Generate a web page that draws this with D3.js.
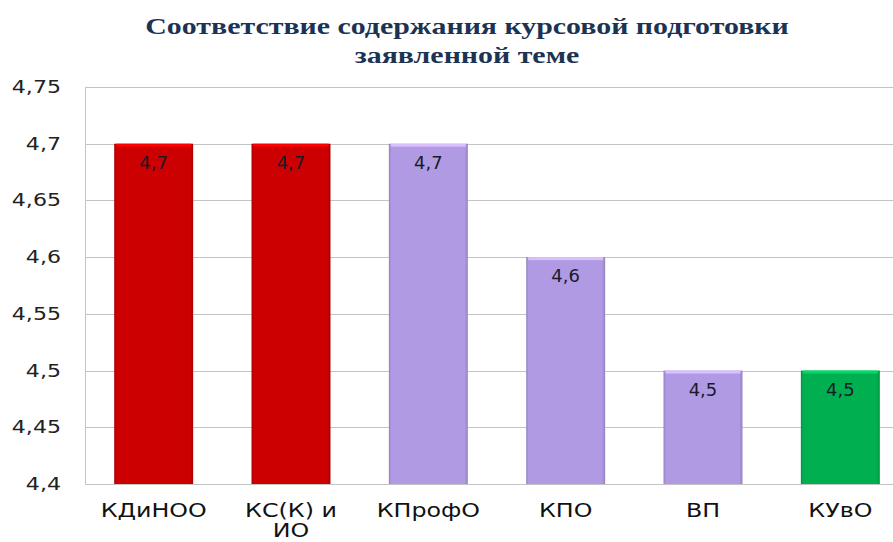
<!DOCTYPE html>
<html>
<head>
<meta charset="utf-8">
<script src="https://cdn.jsdelivr.net/npm/d3@7"></script>
<style>
  body { margin: 0; background: #fff; }
  svg { display: block; }
</style>
</head>
<body>
<div class="chart"></div>
<script>
// chart data
var categories = ["КДиНОО", "КС(К) и ИО", "КПрофО", "КПО", "ВП", "КУвО"];
var values = [4.7, 4.7, 4.7, 4.6, 4.5, 4.5];
var barColors = ["#cc0000", "#cc0000", "#b09ae3", "#b09ae3", "#b09ae3", "#00b050"];
var yTicks = [4.4, 4.45, 4.5, 4.55, 4.6, 4.65, 4.7, 4.75];
var title = ["Соответствие содержания курсовой подготовки", "заявленной теме"];

var w = 893, h = 542;
var svg = d3.select(".chart").append("svg")
  .attr("width", w)
  .attr("height", h);

var x = d3.scaleBand()
  .domain(categories)
  .range([85, 909])
  .paddingInner(0.425)
  .paddingOuter(0.2125);

var y = d3.scaleLinear()
  .domain([4.4, 4.75])
  .range([484, 87]);

var fmt = function(v) { return String(+v.toFixed(2)).replace(".", ","); };

// gradients for bevel look
var defs = svg.append("defs");
barColors.forEach(function(c, i) {
  var g = defs.append("linearGradient").attr("id", "g" + i)
    .attr("x1", 0).attr("x2", 1).attr("y1", 0).attr("y2", 0);
  var dark = d3.color(c).darker(0.5);
  g.append("stop").attr("offset", "0%").attr("stop-color", dark);
  g.append("stop").attr("offset", "3%").attr("stop-color", c);
  g.append("stop").attr("offset", "96%").attr("stop-color", c);
  g.append("stop").attr("offset", "100%").attr("stop-color", dark);
});

// gridlines
svg.append("g")
  .selectAll("line")
  .data(yTicks)
  .enter().append("line")
  .attr("x1", 85).attr("x2", w)
  .attr("y1", function(d) { return Math.round(y(d)) + 0.5; })
  .attr("y2", function(d) { return Math.round(y(d)) + 0.5; })
  .attr("stroke", "#c4c4c4")
  .attr("stroke-width", 1);

svg.append("line")
  .attr("x1", 85.5).attr("x2", 85.5)
  .attr("y1", y(4.75)).attr("y2", y(4.4))
  .attr("stroke", "#c4c4c4");

// y tick labels (stretched a little, like the original)
svg.append("g")
  .selectAll("text")
  .data(yTicks)
  .enter().append("text")
  .attr("transform", function(d) { return "translate(61," + y(d) + ") scale(1.3,1)"; })
  .attr("dy", "0.35em")
  .attr("text-anchor", "end")
  .attr("font-family", "'DejaVu Sans', sans-serif")
  .attr("font-size", 17)
  .attr("fill", "#222")
  .text(fmt);

// bars
var bars = svg.append("g")
  .selectAll(".bar")
  .data(values)
  .enter().append("g")
  .attr("class", "bar");

bars.append("rect")
  .attr("x", function(d, i) { return x(categories[i]); })
  .attr("y", function(d) { return y(d); })
  .attr("width", x.bandwidth())
  .attr("height", function(d) { return y(4.4) - y(d); })
  .attr("fill", function(d, i) { return "url(#g" + i + ")"; });

bars.append("rect")
  .attr("x", function(d, i) { return x(categories[i]) + 2; })
  .attr("y", function(d) { return y(d); })
  .attr("width", x.bandwidth() - 4)
  .attr("height", 3)
  .attr("fill", function(d, i) { return d3.color(barColors[i]).brighter(0.6); });

bars.append("text")
  .attr("x", function(d, i) { return x(categories[i]) + x.bandwidth() / 2; })
  .attr("y", function(d) { return y(d) + 25; })
  .attr("text-anchor", "middle")
  .attr("font-family", "'DejaVu Sans', sans-serif")
  .attr("font-size", 18)
  .attr("fill", "#1a1a2a")
  .text(fmt);

// category labels
var cat = svg.append("g")
  .selectAll("text")
  .data(categories)
  .enter().append("text")
  .attr("transform", function(d) { return "translate(" + (x(d) + x.bandwidth() / 2) + ",517) scale(1.25,1)"; })
  .attr("text-anchor", "middle")
  .attr("font-family", "'DejaVu Sans', sans-serif")
  .attr("font-size", 19)
  .attr("fill", "#111");

cat.each(function(d) {
  var t = d3.select(this);
  var parts = d === "КС(К) и ИО" ? ["КС(К) и", "ИО"] : [d];
  parts.forEach(function(p, k) {
    t.append("tspan")
      .attr("x", 0)
      .attr("dy", k === 0 ? 0 : 20)
      .text(p);
  });
});

// title
var tt = svg.append("text")
  .attr("transform", "translate(467,0) scale(1.3,1)")
  .attr("text-anchor", "middle")
  .attr("font-family", "'Liberation Serif', serif")
  .attr("font-weight", "bold")
  .attr("font-size", 23)
  .attr("fill", "#1c3354");

tt.selectAll("tspan")
  .data(title)
  .enter().append("tspan")
  .attr("x", 0)
  .attr("y", function(d, i) { return i === 0 ? 34 : 63; })
  .text(function(d) { return d; });
</script>
</body>
</html>
